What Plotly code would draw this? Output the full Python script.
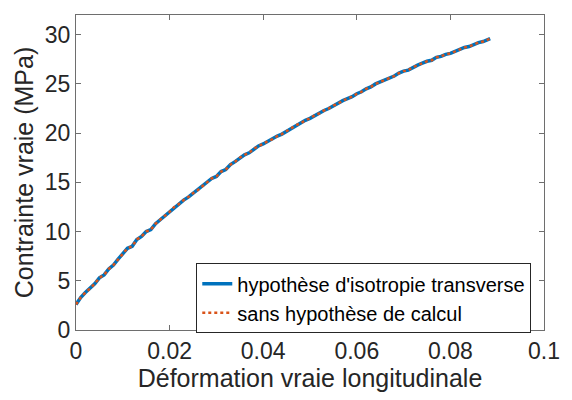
import plotly.graph_objects as go

# True longitudinal strain (-) and true stress (MPa)
deformation = [0.000, 0.001, 0.002, 0.003, 0.004, 0.005, 0.006, 0.007, 0.008, 0.009,
               0.010, 0.011, 0.012, 0.013, 0.014, 0.015, 0.016, 0.017, 0.018, 0.019,
               0.020, 0.021, 0.022, 0.023, 0.024, 0.025, 0.026, 0.027, 0.028, 0.029,
               0.030, 0.031, 0.032, 0.033, 0.034, 0.035, 0.036, 0.037, 0.038, 0.039,
               0.040, 0.041, 0.042, 0.043, 0.044, 0.045, 0.046, 0.047, 0.048, 0.049,
               0.050, 0.051, 0.052, 0.053, 0.054, 0.055, 0.056, 0.057, 0.058, 0.059,
               0.060, 0.061, 0.062, 0.063, 0.064, 0.065, 0.066, 0.067, 0.068, 0.069,
               0.070, 0.071, 0.072, 0.073, 0.074, 0.075, 0.076, 0.077, 0.078, 0.079,
               0.080, 0.081, 0.082, 0.083, 0.084, 0.085, 0.086, 0.087, 0.088, 0.0885]
contrainte_iso = [2.6, 3.3, 3.8, 4.2, 4.7, 5.3, 5.6, 6.2, 6.6, 7.2,
                  7.7, 8.3, 8.5, 9.2, 9.5, 10.0, 10.2, 10.8, 11.2, 11.6,
                  12.0, 12.5, 12.8, 13.2, 13.5, 13.9, 14.2, 14.6, 15.0, 15.4,
                  15.6, 16.1, 16.3, 16.8, 17.1, 17.5, 17.8, 18.0, 18.4, 18.7,
                  18.9, 19.2, 19.4, 19.7, 19.9, 20.2, 20.5, 20.8, 21.0, 21.3,
                  21.5, 21.8, 22.0, 22.3, 22.5, 22.8, 23.0, 23.3, 23.5, 23.7,
                  24.0, 24.2, 24.5, 24.7, 25.0, 25.2, 25.4, 25.6, 25.8, 26.1,
                  26.3, 26.4, 26.7, 26.9, 27.1, 27.3, 27.4, 27.7, 27.8, 28.0,
                  28.1, 28.3, 28.5, 28.7, 28.8, 29.0, 29.2, 29.3, 29.5, 29.6]
contrainte_sans = [2.6, 3.3, 3.8, 4.2, 4.7, 5.3, 5.6, 6.2, 6.6, 7.2,
                   7.7, 8.3, 8.5, 9.2, 9.5, 10.0, 10.2, 10.8, 11.2, 11.6,
                   12.0, 12.5, 12.8, 13.2, 13.5, 13.9, 14.2, 14.6, 15.0, 15.4,
                   15.6, 16.1, 16.3, 16.8, 17.1, 17.5, 17.8, 18.0, 18.4, 18.7,
                   18.9, 19.2, 19.4, 19.7, 19.9, 20.2, 20.5, 20.8, 21.0, 21.3,
                   21.5, 21.8, 22.0, 22.3, 22.5, 22.8, 23.0, 23.3, 23.5, 23.7,
                   24.0, 24.2, 24.5, 24.7, 25.0, 25.2, 25.4, 25.6, 25.8, 26.1,
                   26.3, 26.4, 26.7, 26.9, 27.1, 27.3, 27.4, 27.7, 27.8, 28.0,
                   28.1, 28.3, 28.5, 28.7, 28.8, 29.0, 29.2, 29.3, 29.5, 29.6]

x_ticks = [0, 0.02, 0.04, 0.06, 0.08, 0.1]
x_labels = ["0", "0.02", "0.04", "0.06", "0.08", "0.1"]
y_ticks = [0, 5, 10, 15, 20, 25, 30]

font_family = "Liberation Sans, Arial, sans-serif"
text_color = "#262626"
axis_color = "#6e6e6e"

fig = go.Figure()
fig.add_trace(go.Scatter(
    x=deformation, y=contrainte_iso, mode="lines",
    name="hypothèse d'isotropie transverse",
    line=dict(color="#0072BD", width=3.5),
))
fig.add_trace(go.Scatter(
    x=deformation, y=contrainte_sans, mode="lines",
    name="sans hypothèse de calcul",
    line=dict(color="#D95319", width=2.5, dash="dot"),
))

axis_common = dict(
    showgrid=False, zeroline=False, showline=True, linecolor=axis_color,
    linewidth=1, mirror="ticks", ticks="inside", ticklen=5, tickcolor=axis_color,
    tickfont=dict(size=23, color=text_color, family=font_family),
)

fig.update_layout(
    width=572, height=400,
    margin=dict(l=76, r=25, t=15, b=70),
    paper_bgcolor="white", plot_bgcolor="white",
    font=dict(family=font_family, color=text_color),
    xaxis=dict(range=[0, 0.1], tickvals=x_ticks, ticktext=x_labels,
               title=dict(text="Déformation vraie longitudinale",
                          font=dict(size=25, color=text_color), standoff=4),
               **axis_common),
    yaxis=dict(range=[0, 32], tickvals=y_ticks,
               title=dict(text="Contrainte vraie (MPa)",
                          font=dict(size=25, color=text_color), standoff=4),
               **axis_common),
    legend=dict(
        x=0.257, y=0.212, xanchor="left", yanchor="top",
        bgcolor="white", bordercolor="#262626", borderwidth=1,
        font=dict(size=20, color="#000000", family=font_family),
        tracegroupgap=0, itemwidth=30,
    ),
)

fig.write_html("out.html")
